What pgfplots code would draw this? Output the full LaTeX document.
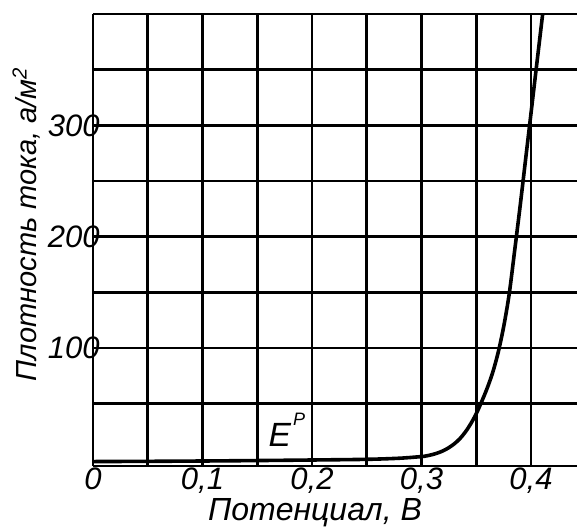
\documentclass[border=0pt]{standalone}
\usepackage{fontspec}
\setmainfont{Liberation Sans}
\usepackage{pgfplots}
\pgfplotsset{compat=1.18}

\begin{document}
\begin{tikzpicture}
\begin{axis}[
    name=ax,
    at={(0,0)}, anchor=south west,
    scale only axis,
    width=242pt, height=226pt,
    xmin=0, xmax=0.442,
    ymin=-6, ymax=400,
    axis x line=box, axis y line=left,
    axis line style={-, line width=1.4pt},
    y axis line style={-},
    xtick={0,0.1,0.2,0.3,0.4},
    xticklabels={0,{0,1},{0,2},{0,3},{0,4}},
    minor xtick={0.05,0.15,0.25,0.35},
    ytick={100,200,300},
    yticklabels={100,200,300},
    minor ytick={50,150,250,350},
    major tick length=0pt, minor tick length=0pt,
    grid=both,
    major grid style={black, line width=1.3pt},
    minor grid style={black, line width=1.3pt},
    tick label style={font=\itshape\fontsize{15.5}{17}\selectfont},
    xticklabel style={inner sep=0pt, anchor=north, yshift=-0.5pt},
    yticklabel style={inner sep=0pt, anchor=east, xshift=3.5pt},
    xlabel={Потенциал, В},
    ylabel={Плотность тока, а/м\textsuperscript{2}},
    xlabel style={font=\itshape\fontsize{16}{18}\selectfont,
        at={(axis description cs:0.4587,0)}, anchor=base, yshift=-27pt},
    ylabel style={font=\itshape\fontsize{14.5}{16}\selectfont,
        at={(axis description cs:-0.1157,0.535)}, anchor=base},
    clip=true,
]
\addplot[black, line width=1.8pt, smooth, tension=0.5] coordinates {
    (0,-2) (0.05,-1.8) (0.1,-1.5) (0.15,-1.1) (0.2,-0.6) (0.25,0)
    (0.28,1) (0.3,2.5) (0.305,3.2) (0.31,4.3) (0.315,5.8) (0.32,7.8)
    (0.325,10.5) (0.33,14) (0.335,18.5) (0.34,24.5) (0.345,32)
    (0.35,41) (0.355,52) (0.36,64) (0.365,78) (0.37,96) (0.375,119)
    (0.38,148) (0.385,187) (0.39,227) (0.395,269) (0.4,311)
    (0.405,353) (0.411,403)
};
\node[anchor=base west, inner sep=0pt, font=\itshape\fontsize{16.8}{18}\selectfont]
    at (axis cs:0.16,11.7) {E\hspace{1pt}\raisebox{10.5pt}{\fontsize{9}{10}\selectfont P}};
\end{axis}
\pgfresetboundingbox
\path[use as bounding box] (-46.5pt,-30.5pt) rectangle (242pt,233pt);
\end{tikzpicture}
\end{document}
